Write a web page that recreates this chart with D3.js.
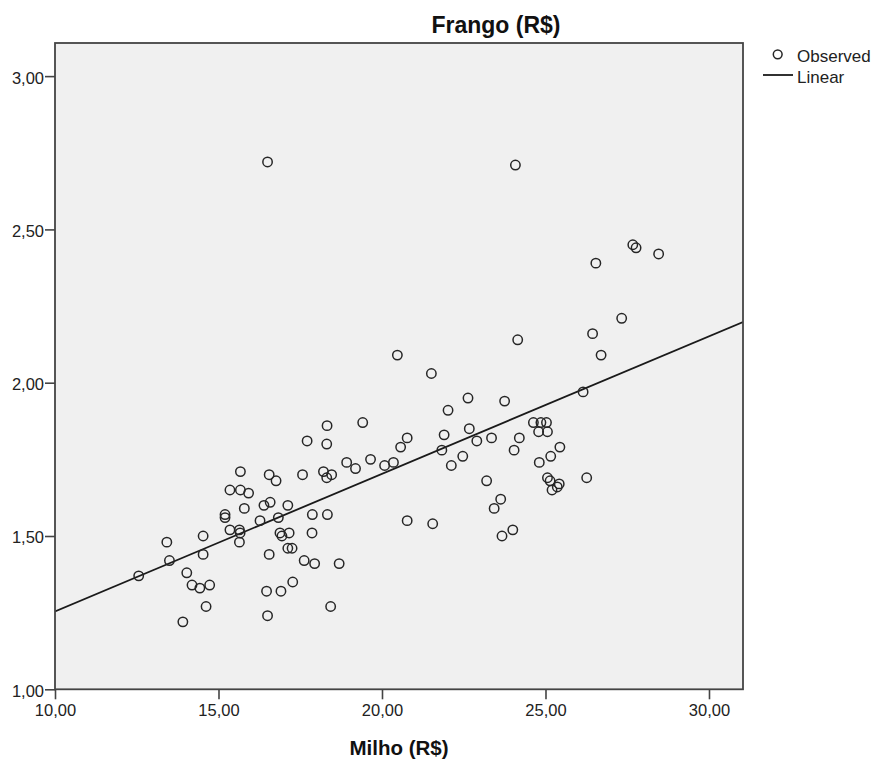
<!DOCTYPE html>
<html>
<head>
<meta charset="utf-8">
<script src="https://cdn.jsdelivr.net/npm/d3@7"></script>
<style>
  html, body { margin: 0; padding: 0; background: #ffffff; }
  svg { display: block; font-family: "Liberation Sans", Arial, sans-serif; }
</style>
</head>
<body>
<svg id="chart" width="876" height="760"></svg>
<script>
// ---- data ----
const milho = [
  12.56, 13.42, 13.50, 13.91, 14.03, 14.19, 14.43, 14.53, 14.53, 14.62,
  14.73, 15.20, 15.20, 15.35, 15.35, 15.64, 15.66, 15.64, 15.67, 15.67,
  15.92, 15.79, 16.27, 16.39, 16.58, 16.55, 16.76, 16.83, 16.88, 16.94,
  17.16, 17.12, 17.12, 17.25, 16.55, 16.47, 16.91, 17.27, 16.50, 16.50,
  17.57, 17.62, 17.94, 17.71, 17.87, 17.86, 18.21, 18.31, 18.32, 18.33,
  18.46, 18.31, 18.43, 18.69, 18.92, 19.19, 19.41, 19.65, 20.08, 20.35,
  20.47, 20.57, 20.77, 20.77, 21.51, 21.55, 21.83, 21.90, 22.02, 22.12,
  22.47, 22.63, 22.67, 22.90, 23.20, 23.35, 23.43, 23.63, 23.67, 23.75,
  24.00, 24.04, 24.08, 24.15, 24.20, 24.63, 24.86, 25.03, 24.79, 25.06,
  25.44, 25.16, 24.81, 25.06, 25.14, 25.42, 25.36, 25.20, 26.26, 26.15,
  26.44, 26.54, 26.70, 27.33, 27.67, 27.77, 28.46
];
const frango = [
  1.37, 1.48, 1.42, 1.22, 1.38, 1.34, 1.33, 1.50, 1.44, 1.27,
  1.34, 1.57, 1.56, 1.65, 1.52, 1.52, 1.51, 1.48, 1.71, 1.65,
  1.64, 1.59, 1.55, 1.60, 1.61, 1.70, 1.68, 1.56, 1.51, 1.50,
  1.51, 1.60, 1.46, 1.46, 1.44, 1.32, 1.32, 1.35, 1.24, 2.72,
  1.70, 1.42, 1.41, 1.81, 1.57, 1.51, 1.71, 1.80, 1.86, 1.57,
  1.70, 1.69, 1.27, 1.41, 1.74, 1.72, 1.87, 1.75, 1.73, 1.74,
  2.09, 1.79, 1.82, 1.55, 2.03, 1.54, 1.78, 1.83, 1.91, 1.73,
  1.76, 1.95, 1.85, 1.81, 1.68, 1.82, 1.59, 1.62, 1.50, 1.94,
  1.52, 1.78, 2.71, 2.14, 1.82, 1.87, 1.87, 1.87, 1.84, 1.84,
  1.79, 1.76, 1.74, 1.69, 1.68, 1.67, 1.66, 1.65, 1.69, 1.97,
  2.16, 2.39, 2.09, 2.21, 2.45, 2.44, 2.42
];
const xTicks = [10, 15, 20, 25, 30];
const yTicks = [1.0, 1.5, 2.0, 2.5, 3.0];
const xDomain = [10, 31.04];
const yDomain = [1, 3.108];
const chartTitle = "Frango (R$)";
const xTitle = "Milho (R$)";
const legendLabels = ["Observed", "Linear"];

// ---- layout ----
const plot = { left: 55, top: 43, right: 743, bottom: 689.3 };
const svg = d3.select("#chart");

const x = d3.scaleLinear().domain(xDomain).range([plot.left, plot.right]);
const y = d3.scaleLinear().domain(yDomain).range([plot.bottom, plot.top]);
const fmt = v => d3.format(".2f")(v).replace(".", ",");

// plot background
svg.append("rect")
  .attr("x", plot.left).attr("y", plot.top)
  .attr("width", plot.right - plot.left).attr("height", plot.bottom - plot.top)
  .attr("fill", "#f0f0f0");

// axes
const axisColor = "#444";
const xAxis = svg.append("g")
  .attr("transform", `translate(0,${plot.bottom})`)
  .call(d3.axisBottom(x).tickValues(xTicks).tickFormat(fmt).tickSize(10).tickSizeOuter(0).tickPadding(5));
const yAxis = svg.append("g")
  .attr("transform", `translate(${plot.left},0)`)
  .call(d3.axisLeft(y).tickValues(yTicks).tickFormat(fmt).tickSize(10).tickSizeOuter(0).tickPadding(1));
[xAxis, yAxis].forEach(g => {
  g.select(".domain").remove();
  g.selectAll(".tick line").attr("stroke", axisColor).attr("stroke-width", 1.6);
  g.selectAll(".tick text")
    .attr("fill", "#222")
    .style("font-size", "16.5px")
    .style("font-family", "'Liberation Sans', Arial, sans-serif");
});
yAxis.selectAll(".tick text").attr("dy", "0.42em");

// regression line (least squares on the data)
const n = milho.length;
const mx = d3.mean(milho), my = d3.mean(frango);
let sxy = 0, sxx = 0;
for (let i = 0; i < n; i++) { sxy += (milho[i] - mx) * (frango[i] - my); sxx += (milho[i] - mx) ** 2; }
const slope = sxy / sxx, intercept = my - slope * mx;

svg.append("clipPath").attr("id", "plotclip").append("rect")
  .attr("x", plot.left).attr("y", plot.top)
  .attr("width", plot.right - plot.left).attr("height", plot.bottom - plot.top);

svg.append("line")
  .attr("clip-path", "url(#plotclip)")
  .attr("x1", x(xDomain[0])).attr("y1", y(intercept + slope * xDomain[0]))
  .attr("x2", x(xDomain[1])).attr("y2", y(intercept + slope * xDomain[1]))
  .attr("stroke", "#1a1a1a").attr("stroke-width", 1.8);

// points
svg.append("g").selectAll("circle")
  .data(milho.map((v, i) => [v, frango[i]]))
  .join("circle")
  .attr("cx", d => x(d[0])).attr("cy", d => y(d[1]))
  .attr("r", 4.7)
  .attr("fill", "none")
  .attr("stroke", "#262626")
  .attr("stroke-width", 1.5);

// frame
svg.append("rect")
  .attr("x", plot.left).attr("y", plot.top)
  .attr("width", plot.right - plot.left).attr("height", plot.bottom - plot.top)
  .attr("fill", "none").attr("stroke", "#444").attr("stroke-width", 1.8);

// titles
svg.append("text")
  .attr("x", 496).attr("y", 33)
  .attr("text-anchor", "middle")
  .style("font-size", "23px").style("font-weight", "bold").attr("fill", "#111")
  .text(chartTitle);
svg.append("text")
  .attr("x", (plot.left + plot.right) / 2).attr("y", 755)
  .attr("text-anchor", "middle")
  .style("font-size", "20.5px").style("font-weight", "bold").attr("fill", "#111")
  .text(xTitle);

// legend
const lg = svg.append("g");
lg.append("circle").attr("cx", 777.7).attr("cy", 54.3).attr("r", 4.4)
  .attr("fill", "none").attr("stroke", "#262626").attr("stroke-width", 1.5);
lg.append("line").attr("x1", 763).attr("x2", 793).attr("y1", 75).attr("y2", 75)
  .attr("stroke", "#1a1a1a").attr("stroke-width", 1.8);
lg.selectAll("text").data(legendLabels).join("text")
  .attr("x", 797).attr("y", (d, i) => 62 + i * 20.5)
  .style("font-size", "17px").attr("fill", "#222")
  .text(d => d);
</script>
</body>
</html>
